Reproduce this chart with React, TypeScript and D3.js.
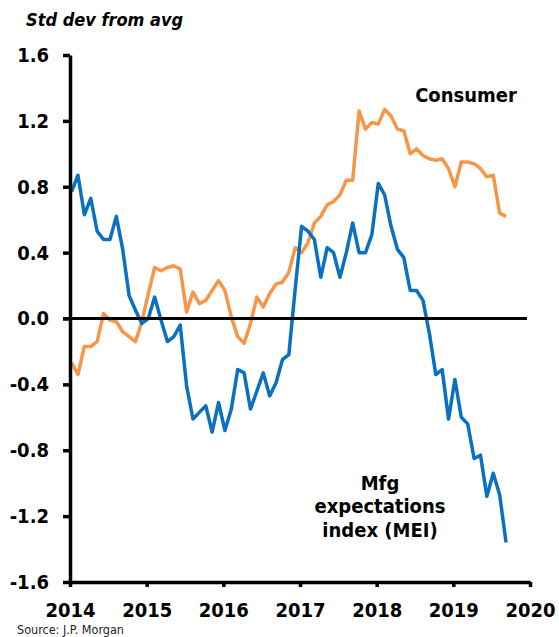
import React, { useEffect, useRef } from 'react'
import { axisBottom, axisLeft, scaleLinear, select, line } from 'd3'

// axis ticks
const years = [2014, 2015, 2016, 2017, 2018, 2019, 2020]
const yTicks = [-1.6, -1.2, -0.8, -0.4, 0, 0.4, 0.8, 1.2, 1.6]

// monthly readings, Jan 2014 .. Sep 2019 (std dev from avg)
const mei = [
  0.77, 0.87, 0.63, 0.73, 0.53, 0.48, 0.48, 0.62, 0.42, 0.14, 0.05, -0.03,
  0.0, 0.13, -0.01, -0.14, -0.11, -0.04, -0.41, -0.61, -0.57, -0.53, -0.69, -0.51,
  -0.68, -0.55, -0.31, -0.33, -0.55, -0.44, -0.33, -0.47, -0.39, -0.25, -0.22, 0.18,
  0.56, 0.53, 0.48, 0.25, 0.43, 0.4, 0.25, 0.4, 0.58, 0.4, 0.4, 0.51,
  0.82, 0.75, 0.56, 0.42, 0.37, 0.17, 0.17, 0.11, -0.09, -0.34, -0.31, -0.61,
  -0.37, -0.6, -0.64, -0.85, -0.83, -1.08, -0.94, -1.07, -1.36,
]

const consumer = [
  -0.27, -0.34, -0.17, -0.17, -0.14, 0.03, -0.01, -0.02, -0.08, -0.11, -0.14, -0.02,
  0.15, 0.31, 0.29, 0.31, 0.32, 0.3, 0.04, 0.16, 0.09, 0.11, 0.17, 0.23,
  0.17, 0.01, -0.11, -0.15, -0.03, 0.13, 0.07, 0.15, 0.21, 0.22, 0.28, 0.43,
  0.4, 0.46, 0.58, 0.62, 0.69, 0.71, 0.75, 0.84, 0.84, 1.26, 1.15, 1.19,
  1.18, 1.27, 1.23, 1.15, 1.14, 1.0, 1.03, 0.99, 0.97, 0.96, 0.97, 0.91,
  0.8, 0.95, 0.95, 0.94, 0.91, 0.86, 0.87, 0.64, 0.62,
]

const BLUE = '#0A70C2'
const ORANGE = '#F79646'
const FONT = "'DejaVu Sans Condensed', 'DejaVu Sans', sans-serif"

const App = () => {
  const svgRef = useRef<SVGSVGElement>(null)

  useEffect(() => {
    const svg = select(svgRef.current)

    const xScale = scaleLinear().domain([2014, 2020]).range([70, 530])
    const yScale = scaleLinear().domain([-1.6, 1.6]).range([582, 55])

    const monthX = (i: number) => xScale(2014 + (i + 0.25) / 12)

    // y axis
    const yAxis = axisLeft(yScale)
      .tickValues(yTicks)
      .tickSize(7)
      .tickSizeOuter(0)
      .tickPadding(14)
      .tickFormat((d: any) => (+d).toFixed(1))
    const yg = svg.select('.y-axis').attr('transform', 'translate(70,0)').call(yAxis as any)
    yg.selectAll('path, line').attr('stroke', '#000').attr('stroke-width', 3.5)
    yg.selectAll('text')
      .attr('fill', '#000')
      .style('font-family', FONT)
      .style('font-stretch', 'condensed')
      .style('font-weight', 'bold')
      .style('font-size', '20px')

    // x axis
    const xAxis = axisBottom(xScale)
      .tickValues(years)
      .tickSize(5)
      .tickSizeOuter(0)
      .tickPadding(16)
      .tickFormat((d: any) => String(d))
    const xg = svg.select('.x-axis').attr('transform', 'translate(0,582)').call(xAxis as any)
    xg.selectAll('path, line').attr('stroke', '#000').attr('stroke-width', 3.5)
    xg.selectAll('text')
      .attr('fill', '#000')
      .style('font-family', FONT)
      .style('font-stretch', 'condensed')
      .style('font-weight', 'bold')
      .style('font-size', '20px')

    const pathGen = line<number>()
      .x((_, i) => monthX(i))
      .y(d => yScale(d))

    svg
      .select('.lines')
      .selectAll('path')
      .data([
        { values: consumer, color: ORANGE },
        { values: mei, color: BLUE },
      ])
      .join('path')
      .attr('d', d => pathGen(d.values))
      .attr('fill', 'none')
      .attr('stroke', d => d.color)
      .attr('stroke-width', 3.5)
      .attr('stroke-linejoin', 'round')

    // zero line
    svg
      .select('.zero')
      .selectAll('line')
      .data([0])
      .join('line')
      .attr('x1', xScale(2014) - 7)
      .attr('x2', xScale(2020) - 3)
      .attr('y1', d => yScale(d))
      .attr('y2', d => yScale(d))
      .attr('stroke', '#000')
      .attr('stroke-width', 3)
  }, [])

  const textStyle = { fontFamily: FONT, fontStretch: 'condensed' as const }

  return (
    <svg
      ref={svgRef}
      width="559"
      height="637"
      viewBox="0 0 559 637"
      style={{ position: 'absolute', left: 0, top: 0, background: '#fff' }}
    >
      <text x={26} y={26} fontSize={18} fontWeight="bold" fontStyle="italic" style={textStyle} fill="#000">
        Std dev from avg
      </text>
      <g className="lines" />
      <g className="zero" />
      <g className="x-axis" />
      <g className="y-axis" />
      <text x={466} y={102} fontSize={20} fontWeight="bold" textAnchor="middle" style={textStyle} fill="#000">
        Consumer
      </text>
      <g style={textStyle} fontSize={20} fontWeight="bold" textAnchor="middle" fill="#000">
        <text x={380} y={489.5}>Mfg</text>
        <text x={380} y={513}>expectations</text>
        <text x={380} y={536.5}>index (MEI)</text>
      </g>
      <text x={17} y={634} fontSize={12.5} style={textStyle} fill="#222">
        Source: J.P. Morgan
      </text>
    </svg>
  )
}

export default App
